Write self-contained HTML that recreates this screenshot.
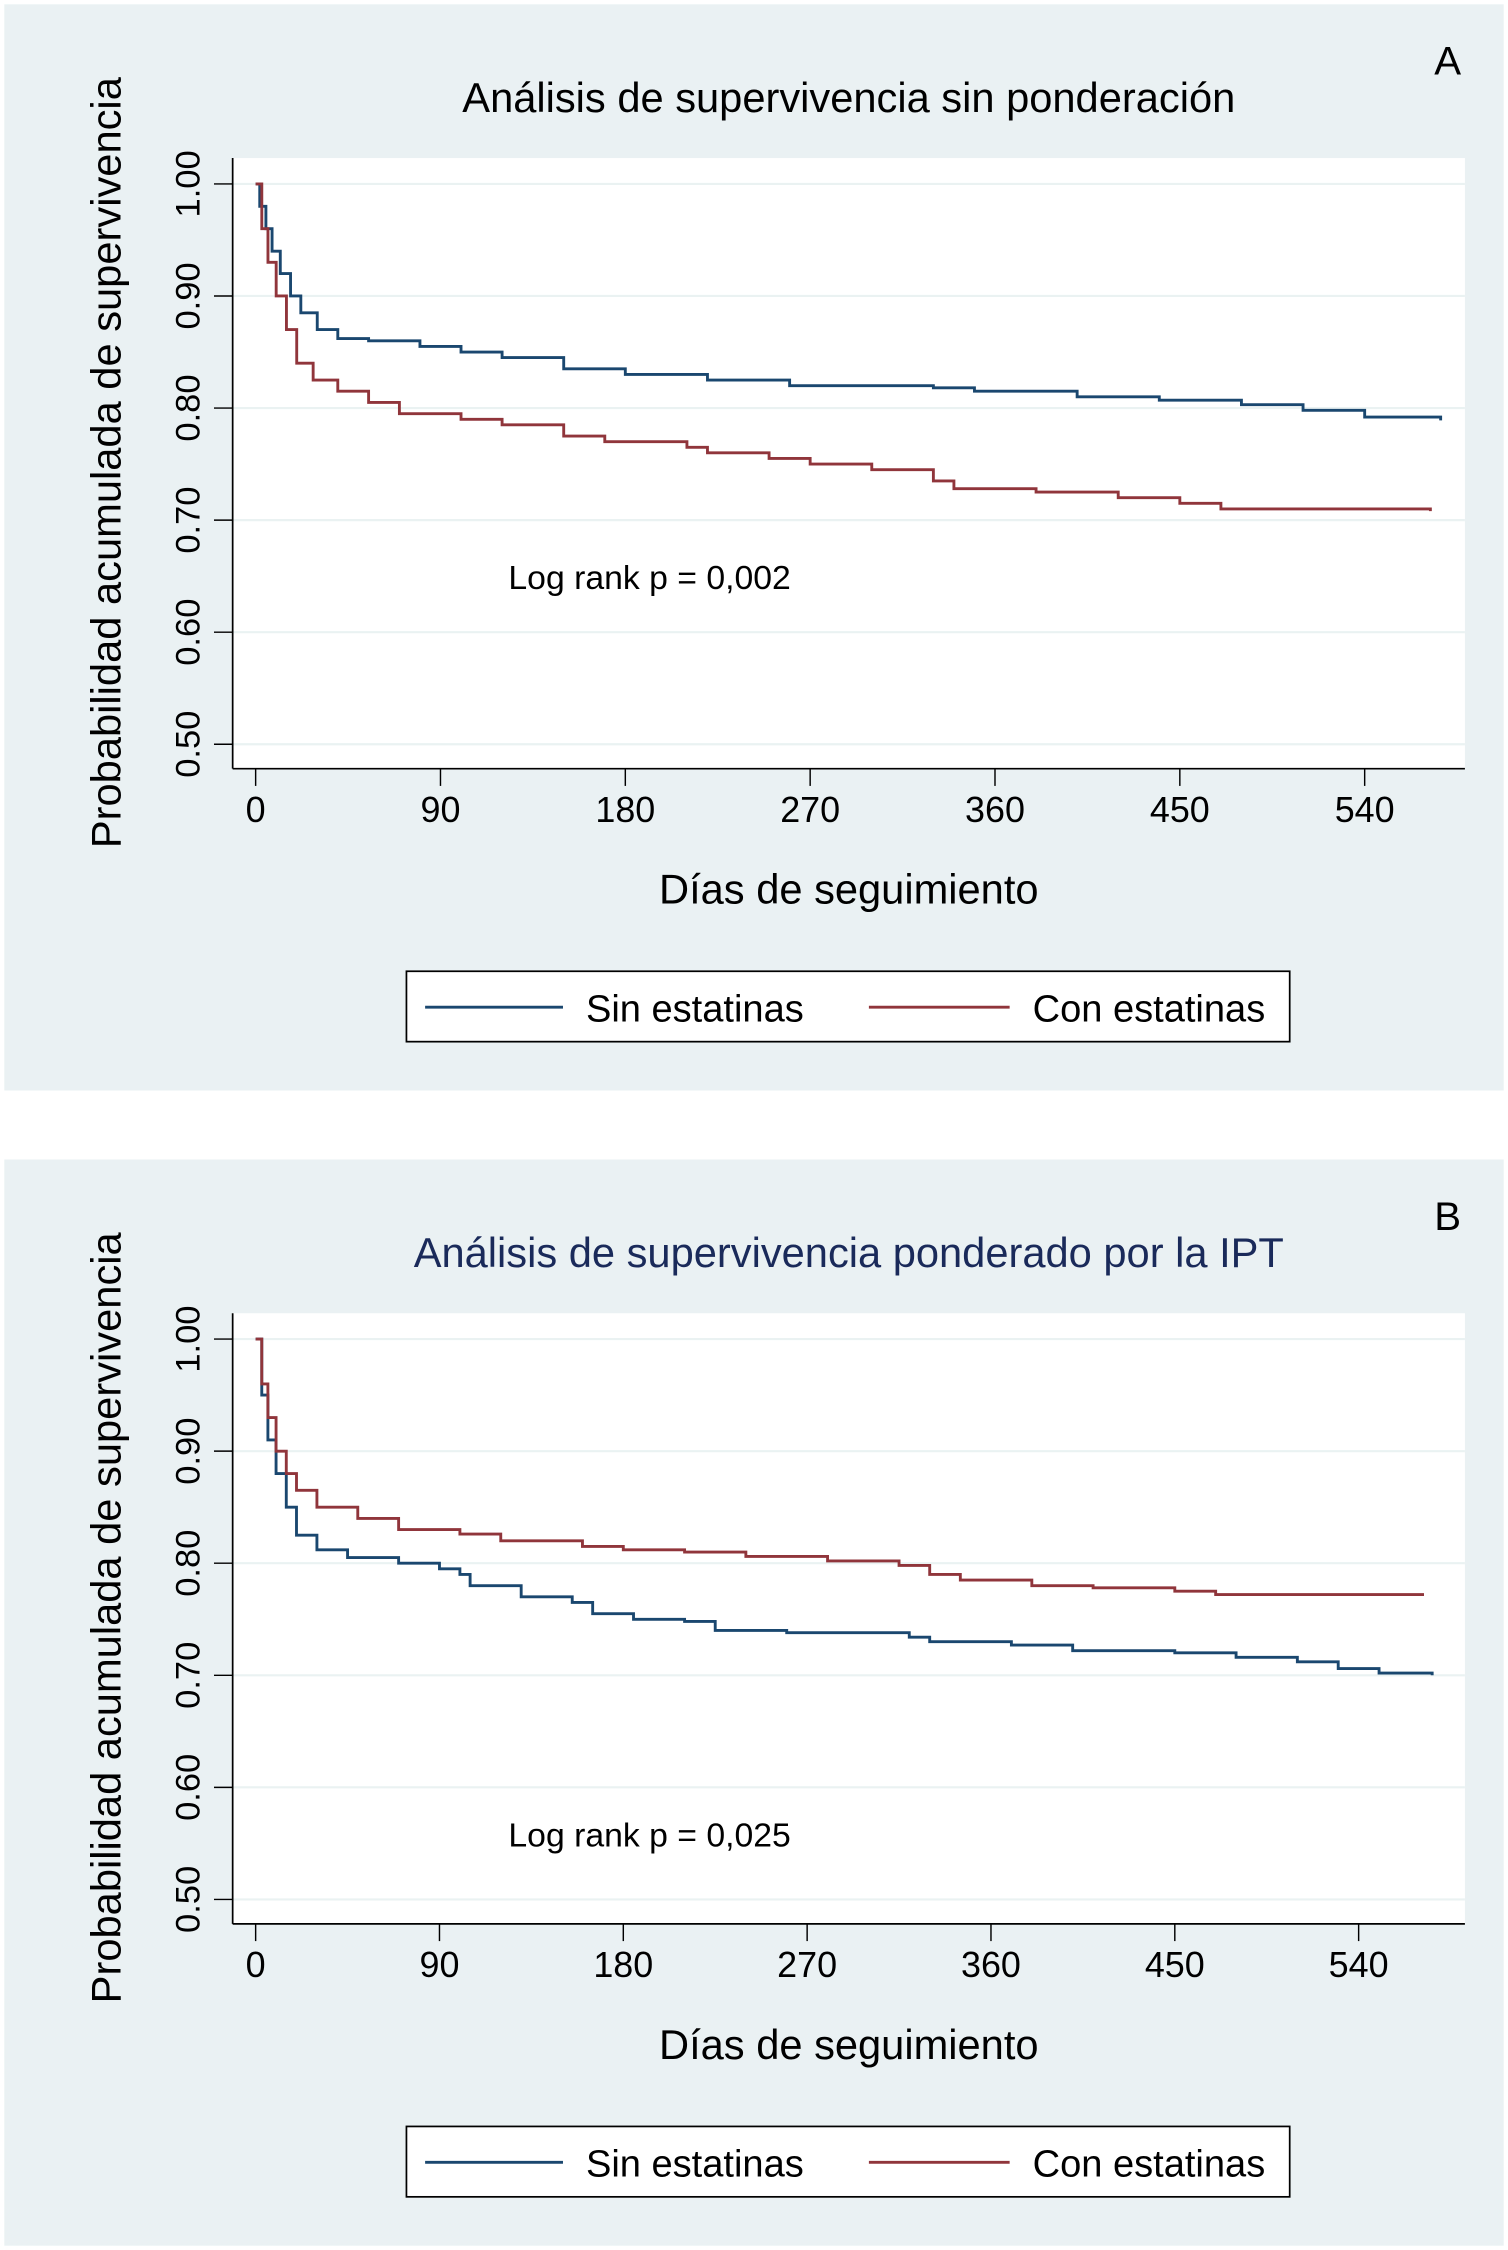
<!DOCTYPE html>
<html><head><meta charset="utf-8"><style>
html,body{margin:0;padding:0;background:#fff}
svg{display:block;font-family:"Liberation Sans",sans-serif}
</style></head><body>
<svg id="chart" width="1508" height="2250" viewBox="0 0 1050 1566" preserveAspectRatio="none" xmlns="http://www.w3.org/2000/svg"></svg>
<script>
const yTicks = [0.5, 0.6, 0.7, 0.8, 0.9, 1.0];
const yTickLabels = ["0.50", "0.60", "0.70", "0.80", "0.90", "1.00"];
const xTicks = [0, 90, 180, 270, 360, 450, 540];
const seriesNames = ["Sin estatinas", "Con estatinas"];
const aSinDays = [0,2,5,8,12,17,22,30,40,55,80,100,120,150,180,220,260,330,350,400,440,480,510,540,577];
const aSinSurv = [1,0.98,0.96,0.94,0.92,0.90,0.885,0.87,0.862,0.86,0.855,0.85,0.845,0.835,0.83,0.825,0.82,0.818,0.815,0.81,0.807,0.803,0.798,0.792,0.789];
const aConDays = [0,3,6,10,15,20,28,40,55,70,100,120,150,170,210,220,250,270,300,330,340,380,420,450,470,572];
const aConSurv = [1,0.96,0.93,0.90,0.87,0.84,0.825,0.815,0.805,0.795,0.79,0.785,0.775,0.77,0.765,0.76,0.755,0.75,0.745,0.735,0.728,0.725,0.72,0.715,0.71,0.708];
const bSinDays = [0,3,6,10,15,20,30,45,70,90,100,105,130,155,165,185,210,225,260,320,330,370,400,450,480,510,530,550,576];
const bSinSurv = [1,0.95,0.91,0.88,0.85,0.825,0.812,0.805,0.80,0.795,0.79,0.78,0.77,0.765,0.755,0.75,0.748,0.74,0.738,0.734,0.73,0.727,0.722,0.72,0.716,0.712,0.706,0.702,0.70];
const bConDays = [0,3,6,10,15,20,30,50,70,100,120,160,180,210,240,280,315,330,345,380,410,450,470,572];
const bConSurv = [1,0.96,0.93,0.90,0.88,0.865,0.85,0.84,0.83,0.826,0.82,0.815,0.812,0.81,0.806,0.802,0.798,0.79,0.785,0.78,0.778,0.775,0.772,0.772];

const NS = "http://www.w3.org/2000/svg";
const svg = document.getElementById("chart");
function mk(tag, attrs, parent, text) {
  const e = document.createElementNS(NS, tag);
  for (const k in attrs) e.setAttribute(k, attrs[k]);
  if (text !== undefined) e.textContent = text;
  (parent || svg).appendChild(e);
  return e;
}
const BLUE = "#1a476f", RED = "#90353b";

function panel(cfg) {
  const g = mk("g", {});
  
  
  const bg = mk("rect", {x:3, y:cfg.top, width:1044, height:756, fill:"#eaf1f3"}, g);
  
  
  const o = cfg.top - 3;
  const plotL = 162, plotR = 1020, plotT = 110 + o, plotB = 535 + o;
  const x0 = 178, xScale = cfg.xPer90 / 90;
  const y1 = 128 + o, yScale = 780;
  const X = d => x0 + d * xScale;
  const Y = v => y1 + (1 - v) * yScale;
  const pa = mk("rect", {x:plotL, y:plotT, width:plotR-plotL, height:plotB-plotT, fill:"#fff"}, g);
  
  
  yTicks.forEach((v, i) => {
    const gl = mk("line", {x1:plotL, x2:plotR, y1:Y(v), y2:Y(v), stroke:"#eaf2f2", "stroke-width":1.5}, g);
    
    
    mk("line", {x1:plotL-13, x2:plotL, y1:Y(v), y2:Y(v), stroke:"#000", "stroke-width":1}, g);
    const t = mk("text", {x:0, y:0, transform:`translate(139,${Y(v)}) rotate(-90)`, "text-anchor":"middle", "font-size":24}, g, yTickLabels[i]);
    
    
  });
  xTicks.forEach(d => {
    mk("line", {x1:X(d), x2:X(d), y1:plotB, y2:plotB+12, stroke:"#000", "stroke-width":1}, g);
    const t = mk("text", {x:X(d), y:plotB+37, "text-anchor":"middle", "font-size":25}, g, String(d));
    
    
  });
  mk("line", {x1:plotL, x2:plotL, y1:plotT, y2:plotB, stroke:"#000", "stroke-width":1.2}, g);
  mk("line", {x1:plotL, x2:plotR, y1:plotB, y2:plotB, stroke:"#000", "stroke-width":1.2}, g);
  const yt = mk("text", {x:0, y:0, transform:`translate(84,${322+o}) rotate(-90)`, "text-anchor":"middle", "font-size":29}, g, "Probabilidad acumulada de supervivencia");
  
  
  const xt = mk("text", {x:591, y:629+o, "text-anchor":"middle", "font-size":29}, g, "Días de seguimiento");
  
  
  const tt = mk("text", {x:591, y:78+o, "text-anchor":"middle", "font-size":29, fill:cfg.titleColor}, g, cfg.title);
  
  
  const pl = mk("text", {x:1008, y:52+o, "text-anchor":"middle", "font-size":28}, g, cfg.letter);
  
  
  const lr = mk("text", {x:354, y:cfg.logY+o, "font-size":23.5}, g, cfg.logText);
  
  
  function step(days, surv, color, nm) {
    let d = `M${X(days[0])},${Y(surv[0])}`;
    for (let i = 1; i < days.length; i++) d += ` H${X(days[i])} V${Y(surv[i])}`;
    const p = mk("path", {d, fill:"none", stroke:color, "stroke-width":2}, g);
    
    
  }
  step(cfg.sinD, cfg.sinS, BLUE, 'sin-estatinas-curve');
  step(cfg.conD, cfg.conS, RED, 'con-estatinas-curve');
  const lg = mk("g", {}, g);
  
  
  mk("rect", {x:283, y:676+o, width:615, height:49, fill:"#fff", stroke:"#000", "stroke-width":1.2}, lg);
  const ly = 701 + o;
  const e1 = mk("line", {x1:296, x2:392, y1:ly, y2:ly, stroke:BLUE, "stroke-width":2}, lg);
  
  
  mk("text", {x:408, y:ly+10, "font-size":26.5}, lg, seriesNames[0]);
  const e2 = mk("line", {x1:605, x2:703, y1:ly, y2:ly, stroke:RED, "stroke-width":2}, lg);
  
  
  mk("text", {x:719, y:ly+10, "font-size":26.5}, lg, seriesNames[1]);
}
panel({name:'panel-a', top:3, xPer90:128.7, title:"Análisis de supervivencia sin ponderación", titleColor:"#000", letter:"A", logY:410, logText:"Log rank p = 0,002", sinD:aSinDays, sinS:aSinSurv, conD:aConDays, conS:aConSurv});
panel({name:'panel-b', top:807, xPer90:128, title:"Análisis de supervivencia ponderado por la IPT", titleColor:"#1a2a5a", letter:"B", logY:481, logText:"Log rank p = 0,025", sinD:bSinDays, sinS:bSinSurv, conD:bConDays, conS:bConSurv});
</script>
</body></html>
